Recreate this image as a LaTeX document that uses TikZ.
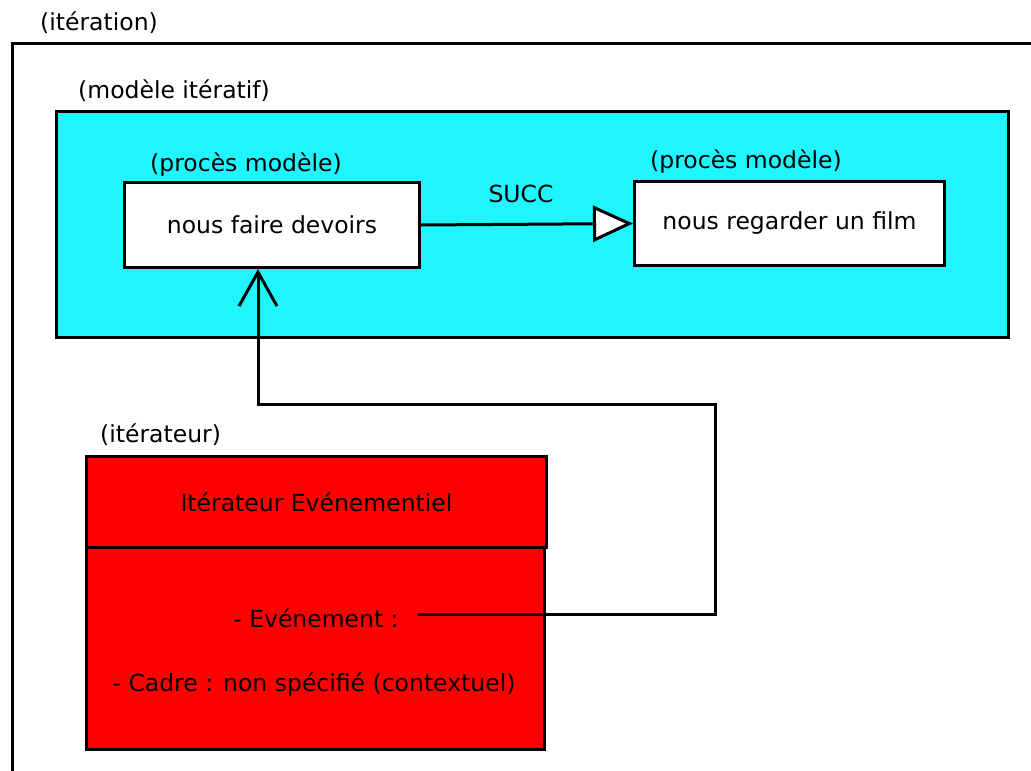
\documentclass[tikz,border=0pt]{standalone}
\usepackage{fontspec}
\setmainfont{DejaVu Sans}
\usetikzlibrary{arrows.meta}
\definecolor{cyanbg}{RGB}{30,245,255}
\definecolor{redbg}{RGB}{255,0,0}
\begin{document}
\begin{tikzpicture}[x=1pt,y=-1pt,
  txt/.style={inner sep=0pt,font=\fontsize{23.5}{28}\selectfont},
  frame/.style={line width=3pt},
  box/.style={draw,line width=3pt,inner sep=0pt},
  conn/.style={line width=3pt}]
\useasboundingbox (0,0) rectangle (1031,771);
% outer iteration frame
\coordinate (ftr) at (1031,43);
\coordinate (ftl) at (12,43);
\coordinate (fbl) at (12,771);
\draw[frame] (ftr) -- (ftl) -- (fbl);
\node[txt,anchor=base west] (lit) at (40,30) {(itération)};
% iterative model
\node[box,fill=cyanbg,minimum width=952pt,minimum height=226pt,anchor=north west] (model) at (55,110) {};
\node[txt,anchor=base west] (lmodel) at (78,98) {(modèle itératif)};
% process boxes
\node[box,fill=white,minimum width=295pt,minimum height=85pt,anchor=north west] (p1) at (123,181) {};
\node[txt] (t1) at (p1.center) {nous faire devoirs};
\node[txt,anchor=base west] (l1) at (150,171) {(procès modèle)};
\node[box,fill=white,minimum width=310pt,minimum height=84pt,anchor=north west] (p2) at (633,180) {};
\node[txt] (t2) at (p2.center) {nous regarder un film};
\node[txt,anchor=base west] (l2) at (650,168) {(procès modèle)};
\draw[conn,-{Triangle[length=40pt,width=36pt,fill=white,line width=3pt]}] (p1.east) -- (p2.west);
\node[txt,anchor=base] (succ) at (521,202) {SUCC};
% iterator
\node[box,fill=redbg,minimum width=460pt,minimum height=91pt,anchor=north west] (ith) at (85,455) {};
\node[txt] (itt) at (ith.center) {Itérateur Evénementiel};
\node[box,fill=redbg,minimum width=458pt,minimum height=202pt,anchor=north west] (itb) at (85,546) {};
\node[txt,anchor=base] (ev) at (316,627) {- Evénement :};
\node[txt,anchor=base] (cad) at (314,691) {- Cadre : non spécifié (contextuel)};
\node[txt,anchor=base west] (lit2) at (100,442) {(itérateur)};
% connector
\coordinate (cs) at (418,614);
\draw[conn,-{Straight Barb[length=34pt,width=38pt,line width=3pt]}] (cs) -- (715,614) -- (715,404) -- (258,404) -- (p1.south -| 258,0);
\end{tikzpicture}
\end{document}
